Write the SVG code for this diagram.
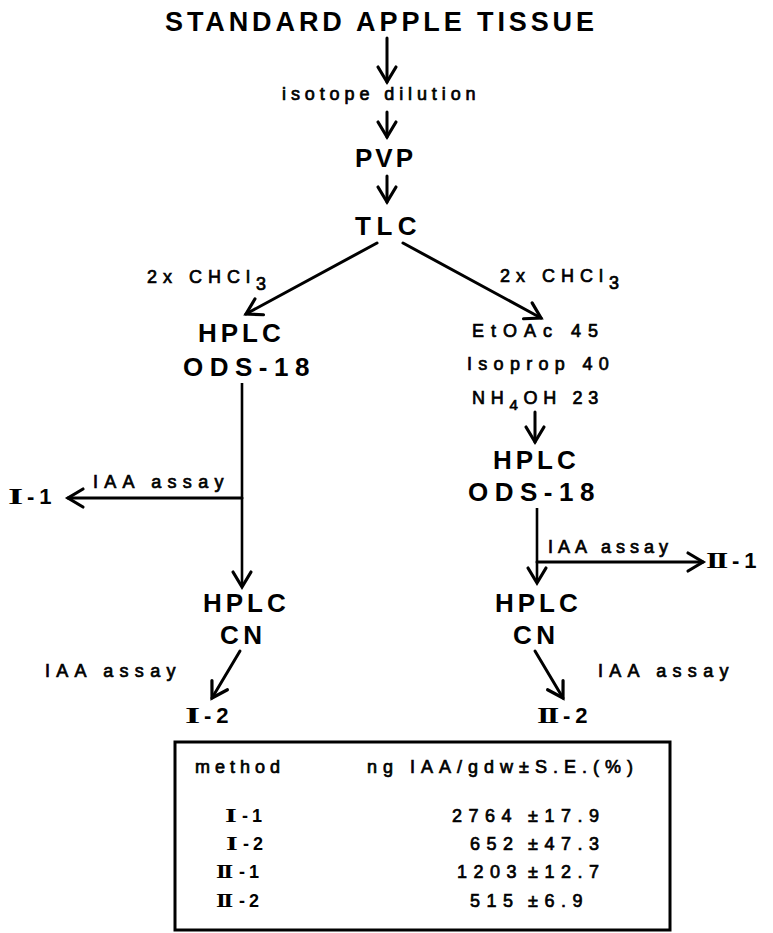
<svg xmlns="http://www.w3.org/2000/svg" width="773" height="933" viewBox="0 0 773 933">
<style>
text{font-family:"Liberation Sans",Arial,sans-serif;fill:#000}
.big{font-weight:bold;font-size:26px}
.sm{font-size:18px;letter-spacing:6px;stroke:#000;stroke-width:0.7}
.lab{font-weight:bold;font-size:22px;letter-spacing:5px}
.rnb{font-family:"Liberation Serif","Times New Roman",serif;font-weight:bold;font-size:23px;letter-spacing:-2px}
.rns{font-family:"Liberation Serif","Times New Roman",serif;font-weight:bold;font-size:19px;letter-spacing:-2px}
.tb{font-size:18px;letter-spacing:6.5px;stroke:#000;stroke-width:0.7}
.tl{font-weight:bold;font-size:18px;letter-spacing:4px}
.ln{stroke:#000;stroke-width:3;fill:none;stroke-linecap:round}
.thin{stroke:#000;stroke-width:2.6;fill:none}
</style>
<defs>
<marker id="ah" viewBox="0 0 18 20" refX="16" refY="10" markerWidth="18" markerHeight="20" markerUnits="userSpaceOnUse" orient="auto" style="overflow:visible">
<path d="M1,1 L16,10 L1,19" fill="none" stroke="#000" stroke-width="3.2" stroke-linecap="round" stroke-linejoin="miter"/>
</marker>
</defs>

<g id="n-title"><text class="big" x="165" y="31" style="font-size:27px;letter-spacing:3.9px">STANDARD APPLE TISSUE</text></g>
<g id="n-isotope"><text class="sm" x="282" y="100" style="letter-spacing:4.9px">isotope dilution</text></g>
<g id="n-pvp"><text class="big" x="355" y="167" style="letter-spacing:3px">PVP</text></g>
<g id="n-tlc"><text class="big" x="355" y="235" style="letter-spacing:5.5px">TLC</text></g>

<g id="n-chcl-left"><text class="sm" x="147" y="283">2x CHCl<tspan dy="7">3</tspan></text></g>
<g id="n-chcl-right"><text class="sm" x="500" y="282">2x CHCl<tspan dy="7">3</tspan></text></g>

<g id="n-hplc-ods-left"><text class="big" x="198" y="342" style="letter-spacing:4px">HPLC</text><text class="big" x="183" y="376" style="letter-spacing:6.5px">ODS-18</text></g>

<g id="n-solvent"><text class="sm" x="472" y="337" style="letter-spacing:7px">EtOAc 45</text><text class="sm" x="467" y="370" style="letter-spacing:6.3px">Isoprop 40</text><text class="sm" x="472" y="404" style="letter-spacing:5.7px">NH<tspan dy="6" font-size="15">4</tspan><tspan dy="-6">OH 23</tspan></text></g>

<g id="n-hplc-ods-right"><text class="big" x="493" y="469" style="letter-spacing:4px">HPLC</text><text class="big" x="468" y="501" style="letter-spacing:6.5px">ODS-18</text></g>

<g id="n-i1"><text class="rnb" transform="translate(8,504) scale(1.7,1)">I</text><text class="lab" x="27" y="504">-1</text></g>
<g id="n-ii1"><text class="rnb" transform="translate(706,568) scale(1.4,1)">II</text><text class="lab" x="732" y="568">-1</text></g>

<g id="n-hplc-cn-left"><text class="big" x="203" y="612" style="letter-spacing:4px">HPLC</text><text class="big" x="220" y="644" style="letter-spacing:4.5px">CN</text></g>
<g id="n-hplc-cn-right"><text class="big" x="495" y="612" style="letter-spacing:4px">HPLC</text><text class="big" x="513" y="644" style="letter-spacing:4.5px">CN</text></g>

<g id="n-i2"><text class="rnb" transform="translate(185,723) scale(1.7,1)">I</text><text class="lab" x="204" y="723">-2</text></g>
<g id="n-ii2"><text class="rnb" transform="translate(537,723) scale(1.4,1)">II</text><text class="lab" x="563" y="723">-2</text></g>

<g id="labels">
<text class="sm" x="93" y="488" style="letter-spacing:6.3px">IAA assay</text>
<text class="sm" x="548" y="553" style="letter-spacing:5px">IAA assay</text>
<text class="sm" x="45" y="677" style="letter-spacing:6.3px">IAA assay</text>
<text class="sm" x="598" y="677" style="letter-spacing:6.3px">IAA assay</text>
</g>

<g id="connectors">
<line class="ln" x1="387" y1="38" x2="387" y2="82" marker-end="url(#ah)"/>
<line class="ln" x1="387" y1="112" x2="387" y2="137" marker-end="url(#ah)"/>
<line class="ln" x1="387" y1="176" x2="387" y2="202" marker-end="url(#ah)"/>
<line class="ln" x1="377" y1="243" x2="246" y2="314" marker-end="url(#ah)"/>
<line class="ln" x1="403" y1="243" x2="541" y2="318" marker-end="url(#ah)"/>
<line class="thin" x1="242" y1="383" x2="242" y2="587" marker-end="url(#ah)"/>
<line class="ln" x1="242" y1="498" x2="68" y2="498" marker-end="url(#ah)"/>
<line class="ln" x1="535" y1="412" x2="535" y2="442" marker-end="url(#ah)"/>
<line class="thin" x1="537" y1="508" x2="537" y2="583" marker-end="url(#ah)"/>
<line class="ln" x1="537" y1="562" x2="703" y2="562" marker-end="url(#ah)"/>
<line class="ln" x1="240" y1="651" x2="212" y2="698" marker-end="url(#ah)"/>
<line class="ln" x1="535" y1="651" x2="563" y2="698" marker-end="url(#ah)"/>
</g>

<g id="n-table">
<rect x="175" y="742" width="495" height="188" fill="none" stroke="#000" stroke-width="3"/>
<text class="tb" x="195" y="773" style="letter-spacing:5px">method</text>
<text class="tb" x="367" y="773" style="letter-spacing:6px">ng IAA/gdw±S.E.(%)</text>
<text class="rns" transform="translate(225,822) scale(1.6,1)">I</text><text class="tl" x="242" y="822">-1</text>
<text class="rns" transform="translate(226,850) scale(1.6,1)">I</text><text class="tl" x="243" y="850">-2</text>
<text class="rns" transform="translate(216,878) scale(1.35,1)">II</text><text class="tl" x="239" y="878">-1</text>
<text class="rns" transform="translate(216,907) scale(1.35,1)">II</text><text class="tl" x="239" y="907">-2</text>
<text class="tb" x="452" y="822">2764</text><text class="tb" x="528" y="822">±17.9</text>
<text class="tb" x="470" y="850">652</text><text class="tb" x="528" y="850">±47.3</text>
<text class="tb" x="457" y="878">1203</text><text class="tb" x="528" y="878">±12.7</text>
<text class="tb" x="470" y="907">515</text><text class="tb" x="528" y="907">±6.9</text>
</g>
</svg>
